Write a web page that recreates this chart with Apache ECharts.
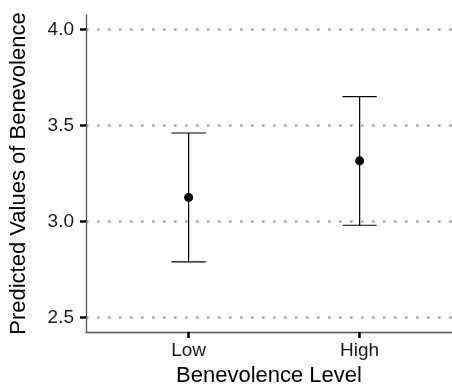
<!DOCTYPE html>
<html>
<head>
<meta charset="utf-8">
<script src="https://cdn.jsdelivr.net/npm/echarts@6/dist/echarts.min.js"></script>
<style>
html,body{margin:0;padding:0;background:#fff;}
#chart{width:452px;height:392px;}
</style>
</head>
<body>
<div id="chart"></div>
<script>
const categories = ['Low', 'High'];
const categoryPositions = [1, 2];
const predicted = [3.126, 3.316];
const lower = [2.790, 2.981];
const upper = [3.461, 3.650];
const yTicks = [2.5, 3.0, 3.5, 4.0];

const FONT = 'Liberation Sans, Arial, Helvetica, sans-serif';
const TICK = '#000';
const chart = echarts.init(document.getElementById('chart'), null, {renderer: 'canvas'});

const pointData = categoryPositions.map((x, i) => [x, predicted[i]]);
const barData = categoryPositions.map((x, i) => [x, lower[i], upper[i]]);

chart.setOption({
  animation: false,
  backgroundColor: '#fff',
  grid: {left: 86, top: 15, right: 0, bottom: 59, containLabel: false},
  xAxis: {
    type: 'value',
    min: 0.4,
    max: 2.54,
    name: 'Benevolence Level',
    nameLocation: 'middle',
    nameGap: 26,
    nameTextStyle: {fontFamily: FONT, fontSize: 22, color: '#000'},
    axisLine: {show: true, lineStyle: {color: '#555', width: 1.3}},
    axisTick: {show: true, length: 6, lineStyle: {color: TICK, width: 2.5}, customValues: categoryPositions},
    axisLabel: {
      fontFamily: FONT, fontSize: 19, color: '#1a1a1a', margin: 9,
      customValues: categoryPositions,
      formatter: v => categories[categoryPositions.indexOf(v)] || ''
    },
    splitLine: {show: false}
  },
  yAxis: {
    type: 'value',
    min: 2.425,
    max: 4.075,
    name: 'Predicted Values of Benevolence',
    nameLocation: 'middle',
    nameRotate: 90,
    nameGap: 56,
    nameTextStyle: {fontFamily: FONT, fontSize: 22, color: '#000'},
    axisLine: {show: true, lineStyle: {color: '#555', width: 1.3}},
    axisTick: {show: true, length: 6, lineStyle: {color: TICK, width: 2.5}, customValues: yTicks},
    axisLabel: {
      fontFamily: FONT, fontSize: 19, color: '#1a1a1a', margin: 12,
      customValues: yTicks,
      formatter: v => v.toFixed(1)
    },
    splitLine: {show: true, lineStyle: {color: '#aaaaaa', width: 2.6, type: [2.6, 8.4]}}
  },
  series: [
    {
      type: 'custom',
      data: barData,
      clip: false,
      renderItem: function (params, api) {
        const x = api.value(0);
        const lo = api.coord([x, api.value(1)]);
        const hi = api.coord([x, api.value(2)]);
        const half = api.size([0.2, 0])[0] / 2;
        const style = {stroke: '#000', lineWidth: 1.2};
        return {
          type: 'group',
          children: [
            {type: 'line', shape: {x1: lo[0], y1: lo[1], x2: hi[0], y2: hi[1]}, style},
            {type: 'line', shape: {x1: hi[0] - half, y1: hi[1], x2: hi[0] + half, y2: hi[1]}, style},
            {type: 'line', shape: {x1: lo[0] - half, y1: lo[1], x2: lo[0] + half, y2: lo[1]}, style}
          ]
        };
      },
      z: 2
    },
    {
      type: 'scatter',
      data: pointData,
      symbol: 'circle',
      symbolSize: 9,
      itemStyle: {color: '#000', opacity: 1},
      z: 3
    }
  ]
});
</script>
</body>
</html>
